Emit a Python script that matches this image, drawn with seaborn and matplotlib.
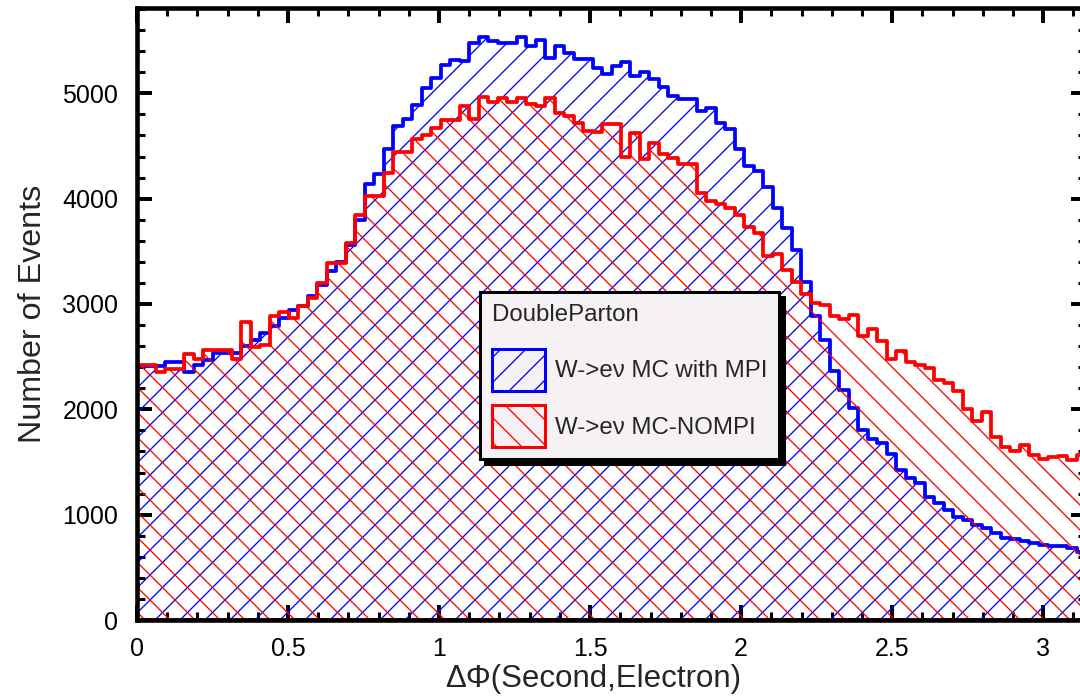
import numpy as np
import pandas as pd
import matplotlib
matplotlib.use("Agg")
import matplotlib.pyplot as plt
import seaborn as sns
from matplotlib.patches import Patch
from matplotlib.ticker import MultipleLocator

# ---------------- data (bin contents) ----------------
n_bins = 100
x_max = np.pi

mpi_counts = [
    2408, 2408, 2408, 2446, 2446, 2351, 2424, 2471, 2535, 2535,
    2535, 2598, 2662, 2725, 2790, 2868, 2947, 2978, 3080, 3184,
    3311, 3400, 3560, 3800, 4135, 4230, 4468, 4689, 4753, 4885,
    5050, 5149, 5268, 5315, 5307, 5475, 5535, 5497, 5482, 5482,
    5535, 5450, 5504, 5339, 5450, 5387, 5323, 5323, 5244, 5181,
    5260, 5295, 5165, 5205, 5140, 5058, 4975, 4943, 4950, 4832,
    4864, 4720, 4658, 4470, 4309, 4262, 4110, 3913, 3723, 3510,
    3208, 2883, 2655, 2368, 2186, 2012, 1806, 1720, 1676, 1576,
    1426, 1347, 1299, 1172, 1109, 1046, 982, 951, 903, 872,
    824, 776, 767, 754, 729, 713, 703, 703, 681, 649,
]

nompi_counts = [
    2424, 2424, 2351, 2380, 2380, 2530, 2482, 2566, 2566, 2566,
    2482, 2830, 2587, 2614, 2890, 2926, 2863, 2978, 3058, 3200,
    3390, 3390, 3583, 3845, 4024, 4024, 4246, 4440, 4440, 4563,
    4600, 4673, 4745, 4745, 4880, 4753, 4965, 4921, 4959, 4921,
    4952, 4895, 4880, 4952, 4816, 4784, 4721, 4642, 4635, 4705,
    4705, 4396, 4626, 4373, 4531, 4420, 4388, 4325, 4325, 4056,
    3977, 3950, 3913, 3842, 3731, 3676, 3454, 3470, 3327, 3210,
    3095, 3005, 2994, 2883, 2855, 2899, 2700, 2765, 2650, 2480,
    2551, 2448, 2420, 2388, 2281, 2250, 2178, 2004, 1893, 1976,
    1742, 1647, 1600, 1658, 1568, 1532, 1552, 1560, 1518, 1568,
]

series_names = ["W->e\u03bd MC with MPI", "W->e\u03bd MC-NOMPI"]
series_colors = ["#0000ff", "#ff0000"]
series_hatches = ["//", "\\\\"]
legend_title = "DoubleParton"
x_label = "\u0394\u03a6(Second,Electron)"
y_label = "Number of Events"
y_max = 5810

# ---------------- build table ----------------
edges = np.linspace(0.0, x_max, n_bins + 1)
centers = 0.5 * (edges[:-1] + edges[1:])
df = pd.DataFrame({
    "dphi": np.concatenate([centers, centers]),
    "events": np.array(mpi_counts + nompi_counts, dtype=float),
    "sample": [series_names[0]] * n_bins + [series_names[1]] * n_bins,
})

# ---------------- style ----------------
sns.set_style("ticks")
plt.rcParams["font.family"] = ["Liberation Sans", "DejaVu Sans"]
plt.rcParams["hatch.linewidth"] = 0.62

W, H, DPI = 1080, 697, 150
fig = plt.figure(figsize=(W / DPI, H / DPI), dpi=DPI)
fig.patch.set_facecolor("white")
left_px, right_px, top_px, bottom_px = 137, 1086, 8, 620
ax = fig.add_axes([left_px / W, 1 - bottom_px / H,
                   (right_px - left_px) / W, (bottom_px - top_px) / H])
ax.set_facecolor("white")

for name, color, hatch in zip(series_names, series_colors, series_hatches):
    with plt.rc_context({"hatch.color": color}):
        sns.histplot(
            data=df[df["sample"] == name], x="dphi", weights="events",
            bins=n_bins, binrange=(0.0, x_max), element="step", fill=True,
            color=color, facecolor="none", edgecolor=color, hatch=hatch,
            linewidth=1.8, ax=ax,
        )

ax.set_xlim(0, x_max)
ax.set_ylim(0, y_max)
ax.xaxis.set_major_locator(MultipleLocator(0.5))
ax.xaxis.set_minor_locator(MultipleLocator(0.1))
ax.yaxis.set_major_locator(MultipleLocator(1000))
ax.yaxis.set_minor_locator(MultipleLocator(200))
ax.xaxis.set_major_formatter(matplotlib.ticker.FuncFormatter(lambda v, p: f"{v:g}"))

for sp in ax.spines.values():
    sp.set_visible(True)
    sp.set_linewidth(2.2)
    sp.set_color("black")
    sp.set_zorder(5)

ax.tick_params(which="both", direction="in", top=True, right=True,
               colors="black", labelsize=12)
ax.tick_params(which="major", length=7.2, width=1.9)
ax.tick_params(which="minor", length=3.8, width=1.45)
ax.tick_params(axis="x", which="major", pad=8)
ax.tick_params(axis="y", which="major", pad=9)

ax.set_xlabel(x_label, fontsize=15)
ax.xaxis.set_label_coords((593 - left_px) / (right_px - left_px),
                          -(664 - bottom_px) / (bottom_px - top_px))
ax.set_ylabel(y_label, fontsize=15.5, labelpad=7)

handles = [Patch(facecolor="none", edgecolor=c, hatch=h, linewidth=1.45)
           for c, h in zip(series_colors, series_hatches)]
leg = ax.legend(
    handles, series_names, title=legend_title, loc="upper left",
    bbox_to_anchor=(0.3614, 0.536), borderaxespad=0, fontsize=11.5,
    title_fontsize=11.5, frameon=True, fancybox=False,
    shadow={"ox": 2.4, "oy": -2.4, "color": "black", "alpha": 1},
    handlelength=2.2, handleheight=2.3, handletextpad=0.42,
    labelspacing=0.62, borderpad=0.5, alignment="left",
)
leg._legend_box.sep = 11
frame = leg.get_frame()
frame.set_facecolor("#f5f1f5")
frame.set_edgecolor("black")
frame.set_linewidth(1.45)
frame.set_alpha(1)
leg.set_zorder(10)

fig.savefig("out.png", dpi=DPI)
